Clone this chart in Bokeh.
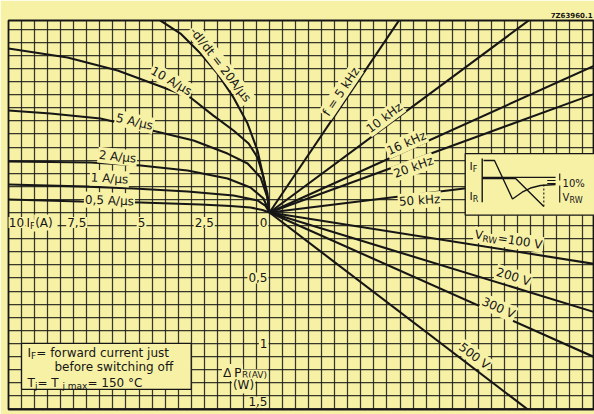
import math
from bokeh.plotting import figure
from bokeh.models import SingleIntervalTicker, Range1d
from bokeh.embed import file_html
from bokeh.resources import INLINE
from bokeh.core.properties import value

BG = "#f7f1a6"
INK = "#161616"
FONT = "DejaVu Sans"

# ---------------- data ----------------
# upper-left quadrant: -dI/dt curves (forward current I_F in A, upper scale value)
if_05 = [10, 7.24, 4.94, 2.64, 1.49, 0.73, 0.27, 0]
q_05 = [0.099, 0.084, 0.076, 0.061, 0.050, 0.038, 0.019, 0]
if_1 = [10, 6.97, 5.21, 3.14, 1.38, 0.46, 0.15, 0]
q_1 = [0.214, 0.198, 0.183, 0.160, 0.130, 0.092, 0.050, 0]
if_2 = [10, 6.86, 4.94, 3.14, 1.61, 0.73, 0.23, 0]
q_2 = [0.389, 0.382, 0.359, 0.321, 0.260, 0.191, 0.107, 0]
if_5 = [10, 8.39, 6.48, 4.18, 2.91, 1.61, 0.84, 0.34, 0.08, 0]
q_5 = [0.779, 0.756, 0.718, 0.611, 0.550, 0.450, 0.374, 0.267, 0.115, 0]
if_10 = [10, 7.74, 5.82, 3.03, 2.15, 1.38, 0.80, 0.46, 0.27, 0.08, 0]
q_10 = [1.252, 1.183, 1.084, 0.878, 0.740, 0.626, 0.527, 0.420, 0.298, 0.145, 0]
if_20 = [4.40, 4.18, 3.41, 2.64, 1.99, 1.38, 0.84, 0.46, 0.23, 0.08, 0]
q_20 = [1.500, 1.466, 1.366, 1.214, 1.061, 0.878, 0.679, 0.473, 0.267, 0.115, 0]
didt_labels = ["0,5 A/µs", "1 A/µs", "2 A/µs", "5 A/µs", "10 A/µs", "-dI/dt = 20A/µs"]
didt_lab_x = [-6.17, -6.17, -5.86, -5.21, -3.79, -1.90]
didt_lab_y = [0.092, 0.260, 0.427, 0.695, 1.008, 1.135]
didt_lab_ang = [-2, -3, -6, -13, -30, -52]

# upper-right quadrant: frequency lines from the origin (end points)
freq_labels = ["f = 5 kHz", "10 kHz", "16 kHz", "20 kHz", "50 kHz"]
freq_x = [5.2, 10.2, 12.6, 12.6, 8.0]
freq_y = [1.537, 1.506, 1.135, 0.917, 0.197]
freq_lab_x = [2.72, 4.37, 5.21, 5.48, 5.71]
freq_lab_y = [0.916, 0.718, 0.527, 0.344, 0.092]
freq_lab_ang = [56, 37, 24, 20, 4]

# lower-right quadrant: V_RW lines from the origin (end points)
vrw_labels = ["=100 V", "200 V", "300 V", "500 V"]
vrw_x = [12.6, 12.6, 12.6, 10.0]
vrw_y = [-0.397, -0.770, -1.118, -1.52]
vrw_lab_x = [9.12, 9.31, 8.74, 7.82]
vrw_lab_y = [-0.206, -0.489, -0.725, -1.092]
vrw_lab_ang = [-9, -17, -24, -37]

# axis ticks
if_ticks = [10, 7.5, 5, 2.5, 0]
if_tick_labels = ["10", "7,5", "5", "2,5", "0"]
dp_ticks = [0.5, 1.0, 1.5]
dp_tick_labels = ["0,5", "1", "1,5"]

# inset waveform sketch
ins_cur_x = [8.20, 8.62, 9.31, 9.68, 10.00, 10.38, 10.96]
ins_cur_y = [0.397, 0.397, 0.103, 0.155, 0.187, 0.206, 0.214]
ins_volt_x = [8.16, 9.43, 10.51]
ins_volt_y = [0.260, 0.260, 0.046]

# ---------------- helpers ----------------
CW = {c: 0.636 for c in "0123456789"}
CW.update({" ": 0.318, "A": 0.684, "/": 0.337, "µ": 0.636, "s": 0.521, "k": 0.579,
           "H": 0.752, "z": 0.525, "f": 0.352, "=": 0.838, "V": 0.684, ",": 0.318,
           "-": 0.361, "d": 0.635, "I": 0.295, "t": 0.392, "R": 0.695, "W": 0.989,
           "j": 0.278, "m": 0.974, "a": 0.613, "x": 0.592, "%": 0.950, "(": 0.390,
           ")": 0.390, "P": 0.603, "Δ": 0.684, "F": 0.575, "T": 0.611, "°": 0.5,
           "C": 0.698, "o": 0.612, "r": 0.411, "w": 0.818, "e": 0.615, "c": 0.55,
           "u": 0.634, "n": 0.634, "b": 0.635, "i": 0.278, "h": 0.634, "g": 0.635})


def tw(s, size):
    return sum(CW.get(c, 0.6) for c in s) * size


p = figure(width=594, height=414, x_range=Range1d(-10, 12.452), y_range=Range1d(-1.504, 1.466),
           x_axis_location=None, y_axis_location=None, toolbar_location=None,
           output_backend="svg", min_border_left=8, min_border_right=0,
           min_border_bottom=5, min_border_top=20,
           background_fill_color=BG, border_fill_color=BG,
           title="7Z63960.1")
p.title.align = "right"
p.title.text_font = FONT
p.title.text_font_size = "7px"
p.title.text_font_style = "bold"
p.title.text_color = INK
p.title.standoff = 2
p.title.offset = 2
p.outline_line_color = INK
p.outline_line_width = 1.8
p.xgrid.ticker = SingleIntervalTicker(interval=0.5, num_minor_ticks=0)
p.ygrid.ticker = SingleIntervalTicker(interval=0.1, num_minor_ticks=0)
for g in (p.xgrid, p.ygrid):
    g.grid_line_color = INK
    g.grid_line_width = 1.25
    g.grid_line_alpha = 0.85


def rich(x, y, pieces, angle=0.0, align="center", dx0=0.0, dy0=0.0, bg=True):
    widths = [tw(t, s) for t, s, _ in pieces]
    total = sum(widths)
    start = {"left": 0.0, "center": -total / 2, "right": -total}[align] + dx0
    a = math.radians(angle)
    ca, sa = math.cos(a), math.sin(a)
    cur = start
    for (t, s, sh), w in zip(pieces, widths):
        lx, ly = cur, dy0 + sh
        kw = dict(background_fill_color=BG, padding=1) if bg else {}
        p.text(x=[x], y=[y], text=[t], angle=a,
               x_offset=lx * ca + ly * sa, y_offset=-lx * sa + ly * ca,
               text_font=value(FONT), text_font_size=f"{s}px", text_color=INK,
               text_align="left", text_baseline="middle", **kw)
        cur += w


# ---------------- curves and lines ----------------
for IF, Q in [(if_05, q_05), (if_1, q_1), (if_2, q_2), (if_5, q_5), (if_10, q_10), (if_20, q_20)]:
    p.line([-v for v in IF], Q, line_color=INK, line_width=2.1)

p.segment(x0=[0] * len(freq_x), y0=[0] * len(freq_x), x1=freq_x, y1=freq_y,
          line_color=INK, line_width=2.1)
p.segment(x0=[0] * len(vrw_x), y0=[0] * len(vrw_x), x1=vrw_x, y1=vrw_y,
          line_color=INK, line_width=2.1)

# boxes
p.quad(left=[7.5], right=[13], top=[0.45], bottom=[-0.02], fill_color=BG, line_color=INK, line_width=1.25)
p.quad(left=[-9.5], right=[-3.0], top=[-1.0], bottom=[-1.35], fill_color=BG, line_color=INK, line_width=1.25)

# ---------------- curve labels ----------------
for t, x, y, a in zip(didt_labels, didt_lab_x, didt_lab_y, didt_lab_ang):
    rich(x, y, [(t, 12, 0)], angle=a)
for t, x, y, a in zip(freq_labels, freq_lab_x, freq_lab_y, freq_lab_ang):
    rich(x, y, [(t, 12, 0)], angle=a)
for i, (t, x, y, a) in enumerate(zip(vrw_labels, vrw_lab_x, vrw_lab_y, vrw_lab_ang)):
    if i == 0:
        rich(x, y, [("V", 12, 0), ("RW", 9, 3), (t, 12, 0)], angle=a)
    else:
        rich(x, y, [(t, 12, 0)], angle=a)

# ---------------- axis labels ----------------
if_offsets = [7, 2, 1.5, -1, -7]
for v, t, o in zip(if_ticks, if_tick_labels, if_offsets):
    rich(-v, 0, [(t, 12, 0)], align="center", dx0=o, dy0=10)
rich(-9.35, 0, [("I", 12, 0), ("F", 9, 3), (" (A)", 12, 0)], align="left", dy0=10)
for v, t in zip(dp_ticks, dp_tick_labels):
    rich(0, -v, [(t, 12, 0)], align="right", dx0=-3, dy0=(-7 if v == 1.5 else 0))
rich(0, -1.221, [("Δ", 13, 0), (" ", 7, 0), ("P", 13, 0), ("R(AV)", 9, 3)], align="right", dx0=-3)
rich(0, -1.32, [("(W)", 12, 0)], align="center", dx0=-27)

# note box
rich(-9.27, -1.076, [("I", 12, 0), ("F", 9, 3), (" = forward current just", 12, 0)], align="left", bg=False)
rich(-8.24, -1.183, [("before switching off", 12, 0)], align="left", bg=False)
rich(-9.27, -1.298, [("T", 12, 0), ("j", 9, 3), (" = T", 12, 0), ("j max", 9, 3), (" = 150 °C", 12, 0)],
     align="left", bg=False)

# ---------------- inset sketch ----------------
p.line([8.15, 8.15], [0.412, 0.079], line_color=INK, line_width=1.4)
p.line([8.15, 10.96], [0.269, 0.269], line_color=INK, line_width=1.2)
p.line(ins_cur_x, ins_cur_y, line_color=INK, line_width=1.4)
p.line(ins_volt_x, ins_volt_y, line_color=INK, line_width=1.4)
p.line([10.51, 10.51], [0.046, 0.22], line_color=INK, line_width=1.1, line_dash="2 2")
p.line([10.64, 10.96], [0.244, 0.244], line_color=INK, line_width=1.1)
p.line([10.64, 10.96], [0.221, 0.221], line_color=INK, line_width=1.1)
p.line([11.12, 11.12], [0.298, 0.244], line_color=INK, line_width=1.1)
p.line([11.12, 11.12], [0.206, 0.076], line_color=INK, line_width=1.1)
rich(7.66, 0.351, [("I", 11, 0), ("F", 8, 3)], align="left", bg=False)
rich(7.66, 0.122, [("I", 11, 0), ("R", 8, 3)], align="left", bg=False)
rich(11.23, 0.225, [("10%", 10, 0)], align="left", bg=False)
rich(11.23, 0.115, [("V", 10, 0), ("RW", 8, 3)], align="left", bg=False)

open("out.html", "w").write(file_html(p, INLINE))
